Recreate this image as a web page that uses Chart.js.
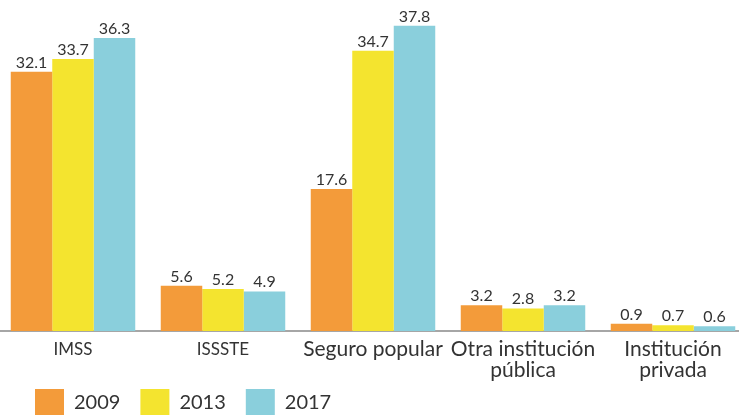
<!DOCTYPE html>
<html><head><meta charset="utf-8">
<script src="https://cdn.jsdelivr.net/npm/chart.js@4/dist/chart.umd.min.js"></script>
<style>
html,body{margin:0;padding:0;overflow:hidden;background:#fff;width:739px;height:415px}
#wrap{position:absolute;left:-2px;top:0;width:750px;height:415px}
</style></head><body>
<div id="wrap"><canvas id="c" width="750" height="415"></canvas></div>
<script>
const categories = ['IMSS', 'ISSSTE', 'Seguro popular', ['Otra institución', 'pública'], ['Institución', 'privada']];
const seriesNames = ['2009', '2013', '2017'];
const values2009 = [32.1, 5.6, 17.6, 3.2, 0.9];
const values2013 = [33.7, 5.2, 34.7, 2.8, 0.7];
const values2017 = [36.3, 4.9, 37.8, 3.2, 0.6];

const colors = ['#F39B3A', '#F4E42F', '#8ACFDC'];
const FONT = 'Lato, "Open Sans", sans-serif';
const TEXT = '#333333';

const valueLabels = {
  id: 'valueLabels',
  afterDatasetsDraw(chart) {
    const ctx = chart.ctx;
    ctx.save();
    ctx.font = '16px ' + FONT;
    ctx.fillStyle = TEXT;
    ctx.textAlign = 'center';
    ctx.textBaseline = 'alphabetic';
    chart.data.datasets.forEach((ds, di) => {
      const meta = chart.getDatasetMeta(di);
      meta.data.forEach((bar, i) => {
        ctx.fillText(ds.data[i].toFixed(1), bar.x, bar.y - 4);
      });
    });
    ctx.restore();
  }
};

const layoutTweak = {
  id: 'layoutTweak',
  afterLayout(chart) {
    const lg = chart.legend;
    if (lg) {
      lg.left += 17; lg.right += 17;
      lg.top += 12; lg.bottom += 12;
    }
    // let the category labels extend below the axis box without being clipped
    const x = chart.scales.x;
    if (x) x.bottom = chart.height;
  }
};

new Chart(document.getElementById('c'), {
  type: 'bar',
  data: {
    labels: categories,
    datasets: [
      { label: seriesNames[0], data: values2009, backgroundColor: colors[0] },
      { label: seriesNames[1], data: values2013, backgroundColor: colors[1] },
      { label: seriesNames[2], data: values2017, backgroundColor: colors[2] }
    ]
  },
  options: {
    responsive: false,
    animation: false,
    layout: { padding: 0 },
    datasets: { bar: { categoryPercentage: 0.83, barPercentage: 1.0, borderWidth: 0 } },
    plugins: {
      legend: {
        position: 'bottom', align: 'start',
        labels: { boxWidth: 29, boxHeight: 28, padding: 20, color: TEXT, font: { family: FONT, size: 20 } }
      },
      tooltip: { enabled: false }
    },
    scales: {
      x: {
        grid: { display: false, drawTicks: false },
        border: { display: true, color: '#A6A6A6', width: 2 },
        ticks: {
          color: TEXT, padding: 8, maxRotation: 0, autoSkip: false,
          font: (c) => ({ family: FONT, size: c.index < 2 ? 17 : 21, lineHeight: '21px' })
        },
        afterFit: (s) => { s.height = 26; }
      },
      y: { display: false, min: 0, max: 41 }
    }
  },
  plugins: [valueLabels, layoutTweak]
});
</script>
</body></html>
